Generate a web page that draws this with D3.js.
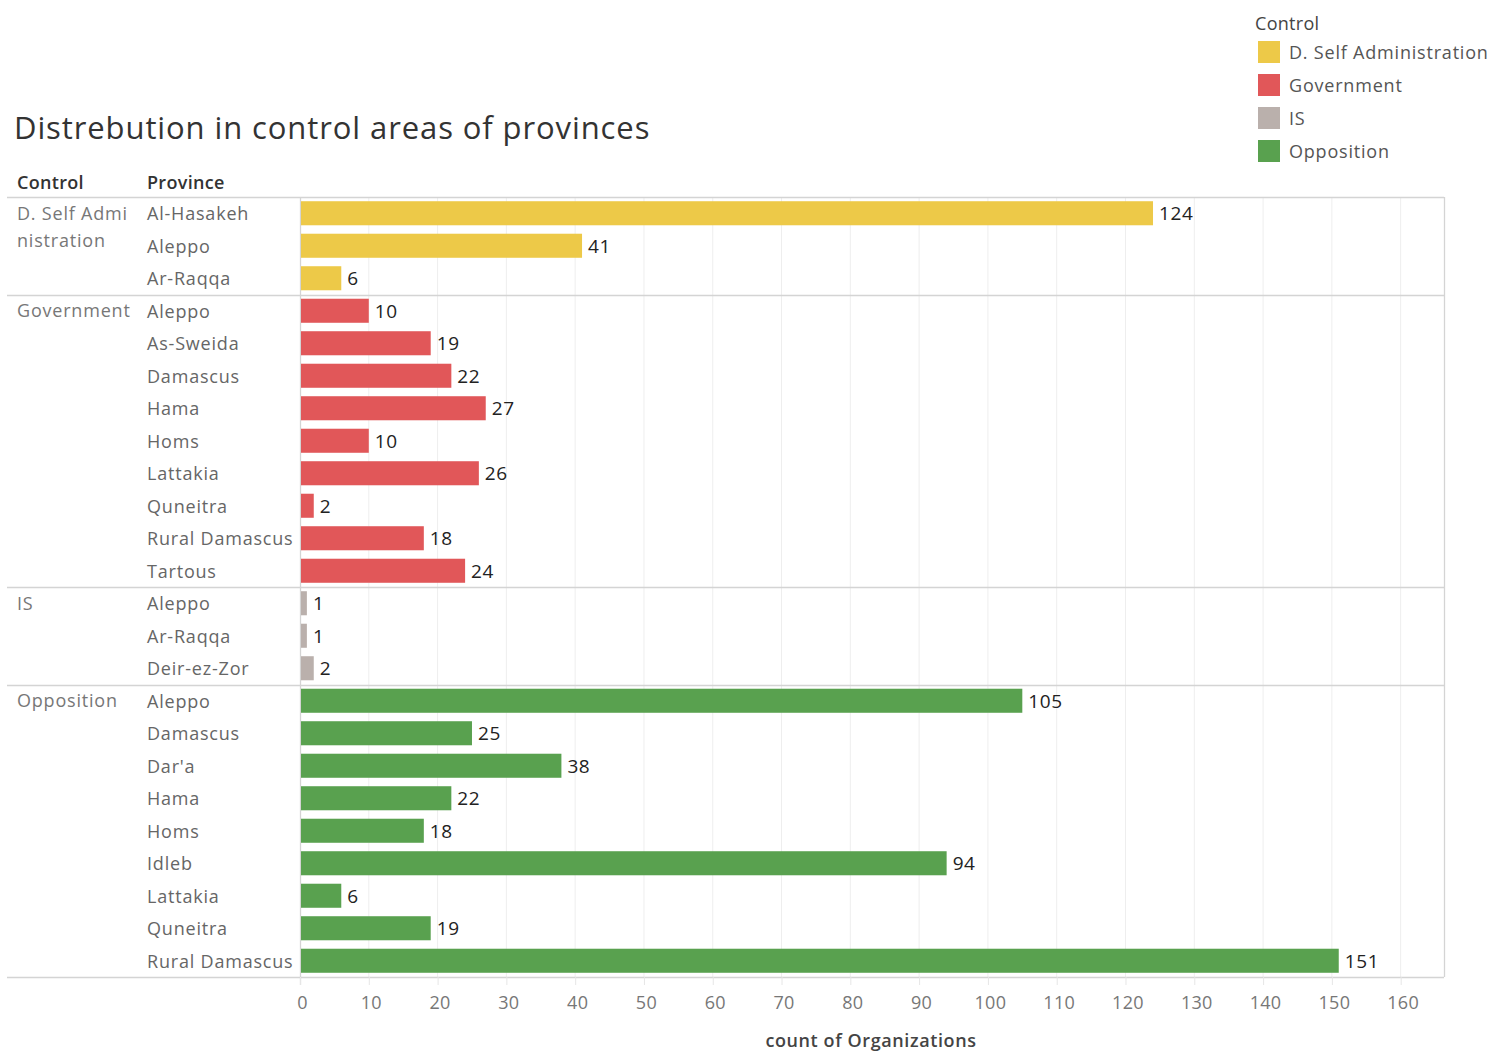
<!DOCTYPE html>
<html>
<head>
<meta charset="utf-8">
<script src="https://cdn.jsdelivr.net/npm/d3@7/dist/d3.min.js"></script>
<style>
  html, body { margin: 0; padding: 0; background: #fff; }
  svg { display: block; font-family: "Open Sans", "Noto Sans", sans-serif; }
</style>
</head>
<body>
<svg id="chart" width="1494" height="1051"></svg>
<script>
// Control areas, in display order
const controls = ["D. Self Administration", "Government", "IS", "Opposition"];
const controlColors = ["#EDC948", "#E15759", "#BAB0AC", "#59A14F"];

// Provinces and organization counts for each control area
const selfAdminProvinces = ["Al-Hasakeh", "Aleppo", "Ar-Raqqa"];
const selfAdminValues = [124, 41, 6];

const governmentProvinces = ["Aleppo", "As-Sweida", "Damascus", "Hama", "Homs", "Lattakia", "Quneitra", "Rural Damascus", "Tartous"];
const governmentValues = [10, 19, 22, 27, 10, 26, 2, 18, 24];

const isProvinces = ["Aleppo", "Ar-Raqqa", "Deir-ez-Zor"];
const isValues = [1, 1, 2];

const oppositionProvinces = ["Aleppo", "Damascus", "Dar'a", "Hama", "Homs", "Idleb", "Lattakia", "Quneitra", "Rural Damascus"];
const oppositionValues = [105, 25, 38, 22, 18, 94, 6, 19, 151];

const xTicks = [0, 10, 20, 30, 40, 50, 60, 70, 80, 90, 100, 110, 120, 130, 140, 150, 160];

const groups = [
  { control: controls[0], label: ["D. Self Admi", "nistration"], provinces: selfAdminProvinces, values: selfAdminValues },
  { control: controls[1], label: ["Government"], provinces: governmentProvinces, values: governmentValues },
  { control: controls[2], label: ["IS"], provinces: isProvinces, values: isValues },
  { control: controls[3], label: ["Opposition"], provinces: oppositionProvinces, values: oppositionValues }
];

// Flatten to one row per (control, province)
const rows = [];
groups.forEach(g => g.provinces.forEach((p, i) => rows.push({ control: g.control, province: p, value: g.values[i], key: g.control + "|" + p })));

const svg = d3.select("#chart");
const color = d3.scaleOrdinal().domain(controls).range(controlColors);

const plotLeft = 300, plotRight = 1444, plotTop = 197, plotBottom = 977;
const tableLeft = 7;
const LS = "0.8px";

const x = d3.scaleLinear().domain([0, 166.3]).range([plotLeft, plotRight]);
const y = d3.scaleBand().domain(rows.map(r => r.key)).range([plotTop, plotBottom]).paddingInner(0.26).paddingOuter(0.13);
const rowBand = d3.scaleBand().domain(rows.map(r => r.key)).range([plotTop, plotBottom]);

// Title
svg.append("text")
  .attr("x", 14).attr("y", 139)
  .attr("font-size", 31).attr("fill", "#333")
  .attr("letter-spacing", "0.9px")
  .text("Distrebution in control areas of provinces");

// Column headers
svg.append("text").attr("x", 17).attr("y", 189).attr("font-size", 18).attr("font-weight", 600).attr("fill", "#333").attr("letter-spacing", "0.3px").text("Control");
svg.append("text").attr("x", 147).attr("y", 189).attr("font-size", 18).attr("font-weight", 600).attr("fill", "#333").attr("letter-spacing", "0.3px").text("Province");

// Vertical gridlines
svg.append("g").selectAll("line").data(xTicks.slice(1)).join("line")
  .attr("x1", d => x(d)).attr("x2", d => x(d))
  .attr("y1", plotTop).attr("y2", plotBottom)
  .attr("stroke", "#eeeeee").attr("stroke-width", 1);

// Group separators and borders
const groupBounds = [];
let idx = 0;
groups.forEach(g => {
  const first = rows[idx].key;
  const last = rows[idx + g.provinces.length - 1].key;
  groupBounds.push({ g, top: rowBand(first), bottom: rowBand(last) + rowBand.bandwidth() });
  idx += g.provinces.length;
});

const sep = svg.append("g");
const hLines = [plotTop].concat(groupBounds.map(b => b.bottom));
sep.selectAll("line.h").data(hLines).join("line")
  .attr("class", "h")
  .attr("x1", tableLeft).attr("x2", plotRight)
  .attr("y1", d => Math.round(d) + 0.5).attr("y2", d => Math.round(d) + 0.5)
  .attr("stroke", "#d4d4d4").attr("stroke-width", 1.3);
sep.append("line").attr("x1", plotLeft + 0.5).attr("x2", plotLeft + 0.5).attr("y1", plotTop).attr("y2", plotBottom + 8)
  .attr("stroke", "#d4d4d4").attr("stroke-width", 1.3);
sep.append("line").attr("x1", plotRight + 0.5).attr("x2", plotRight + 0.5).attr("y1", plotTop).attr("y2", plotBottom)
  .attr("stroke", "#d4d4d4").attr("stroke-width", 1.3);

// Bars
svg.append("g").selectAll("rect").data(rows).join("rect")
  .attr("x", x(0) + 1)
  .attr("y", d => y(d.key))
  .attr("width", d => x(d.value) - x(0) - 1)
  .attr("height", y.bandwidth())
  .attr("fill", d => color(d.control));

// Value labels
svg.append("g").selectAll("text").data(rows).join("text")
  .attr("x", d => x(d.value) + 6)
  .attr("y", d => y(d.key) + y.bandwidth() / 2)
  .attr("dy", "0.36em")
  .attr("font-size", 19).attr("fill", "#222").attr("letter-spacing", "0.6px")
  .text(d => d.value);

// Province labels
svg.append("g").selectAll("text").data(rows).join("text")
  .attr("x", 147)
  .attr("y", d => rowBand(d.key) + rowBand.bandwidth() / 2)
  .attr("dy", "0.38em")
  .attr("font-size", 18).attr("fill", "#666").attr("letter-spacing", LS)
  .text(d => d.province);

// Control labels (long name wraps onto two lines)
const cl = svg.append("g").selectAll("text").data(groupBounds).join("text")
  .attr("x", 17)
  .attr("y", b => b.top + rowBand.bandwidth() / 2)
  .attr("font-size", 18).attr("fill", "#777").attr("letter-spacing", LS);
cl.selectAll("tspan").data(b => b.g.label).join("tspan")
  .attr("x", 17).attr("dy", (d, i) => i === 0 ? "0.36em" : "1.5em")
  .text(d => d);

// X axis
const axis = d3.axisBottom(x).tickValues(xTicks).tickSize(8).tickPadding(11);
const ax = svg.append("g").attr("transform", `translate(0,${plotBottom})`).call(axis);
ax.select(".domain").remove();
ax.selectAll(".tick line").attr("stroke", "#e6e6e6");
ax.selectAll(".tick text").attr("font-size", 18).attr("fill", "#777")
  .attr("font-family", "\"Open Sans\", sans-serif").attr("letter-spacing", "0.3px").attr("dx", 2);

svg.append("text")
  .attr("x", 871).attr("y", 1047)
  .attr("text-anchor", "middle")
  .attr("font-size", 18).attr("font-weight", 600).attr("fill", "#444").attr("letter-spacing", "0.6px")
  .text("count of Organizations");

// Legend
const legend = svg.append("g");
legend.append("text").attr("x", 1255).attr("y", 30).attr("font-size", 18).attr("fill", "#444").attr("letter-spacing", "0.3px").text("Control");
const li = legend.selectAll("g.item").data(controls).join("g")
  .attr("class", "item")
  .attr("transform", (d, i) => `translate(1258,${41 + i * 33})`);
li.append("rect").attr("width", 22).attr("height", 22).attr("fill", d => color(d));
li.append("text").attr("x", 31).attr("y", 12).attr("dy", "0.36em").attr("font-size", 18).attr("fill", "#555").attr("letter-spacing", LS).text(d => d);
</script>
</body>
</html>
